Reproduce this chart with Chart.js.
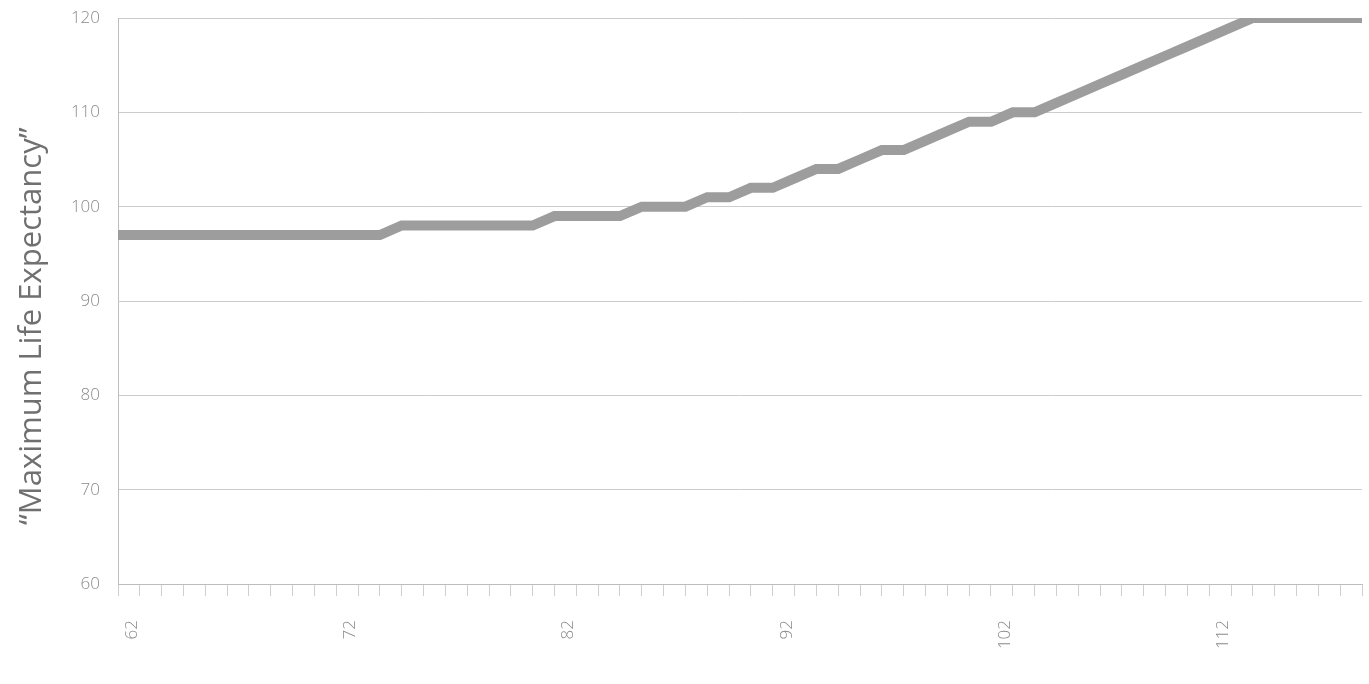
<!DOCTYPE html>
<html>
<head>
<meta charset="utf-8">
<script src="https://cdn.jsdelivr.net/npm/chart.js@4/dist/chart.umd.min.js"></script>
<style>
  html, body { margin: 0; padding: 0; background: #ffffff; }
  #wrap { width: 1369px; height: 684px; position: relative; }
</style>
</head>
<body>
<div id="wrap"><canvas id="chart" width="1369" height="684"></canvas></div>
<script>
// Current age, one category per year
const ages = [
  62, 63, 64, 65, 66, 67, 68, 69, 70, 71,
  72, 73, 74, 75, 76, 77, 78, 79, 80, 81,
  82, 83, 84, 85, 86, 87, 88, 89, 90, 91,
  92, 93, 94, 95, 96, 97, 98, 99, 100, 101,
  102, 103, 104, 105, 106, 107, 108, 109, 110, 111,
  112, 113, 114, 115, 116, 117, 118, 119
];

// Maximum life expectancy for each age
const maxLifeExpectancy = [
  97, 97, 97, 97, 97, 97, 97, 97, 97, 97,
  97, 97, 97, 98, 98, 98, 98, 98, 98, 98,
  99, 99, 99, 99, 100, 100, 100, 101, 101, 102,
  102, 103, 104, 104, 105, 106, 106, 107, 108, 109,
  109, 110, 110, 111, 112, 113, 114, 115, 116, 117,
  118, 119, 120, 120, 120, 120, 120, 120
];

// Y axis range and step
const yTicks = [60, 70, 80, 90, 100, 110, 120];

const yTitle = '\u201CMaximum Life Expectancy\u201D';

const labelFont = "'Open Sans', 'DejaVu Sans', sans-serif";

// Vertical axis title, drawn beside the value labels and centred on the page height
const yTitlePlugin = {
  id: 'yTitle',
  afterDraw(chart) {
    const ctx = chart.ctx;
    ctx.save();
    ctx.translate(32, chart.height * 0.477);
    ctx.rotate(-Math.PI / 2);
    ctx.font = '400 31px ' + labelFont;
    ctx.fillStyle = '#707070';
    ctx.textAlign = 'center';
    ctx.textBaseline = 'middle';
    ctx.fillText(yTitle, 0, 0);
    ctx.restore();
  }
};

new Chart(document.getElementById('chart'), {
  type: 'line',
  data: {
    labels: ages,
    datasets: [{
      data: maxLifeExpectancy,
      borderColor: '#9d9d9d',
      borderWidth: 10,
      borderJoinStyle: 'miter',
      borderCapStyle: 'butt',
      pointRadius: 0,
      pointHoverRadius: 0,
      tension: 0,
      fill: false
    }]
  },
  plugins: [yTitlePlugin],
  options: {
    responsive: false,
    animation: false,
    layout: { padding: { top: 18, right: 7, bottom: 0, left: 0 } },
    plugins: {
      legend: { display: false },
      tooltip: { enabled: false }
    },
    scales: {
      x: {
        type: 'category',
        offset: false,
        afterFit: function (scale) {
          scale.height = 100;
          scale.paddingLeft = 0;
          scale.paddingRight = 0;
        },
        grid: {
          drawOnChartArea: false,
          drawTicks: true,
          tickLength: 12,
          color: '#cfcfcf'
        },
        border: { display: true, color: '#bdbdbd', width: 1 },
        ticks: {
          autoSkip: false,
          maxRotation: 90,
          minRotation: 90,
          padding: 24,
          labelOffset: 14,
          color: '#8a8a8a',
          font: { family: labelFont, size: 17, weight: 300 },
          callback: function (value, index) {
            const age = ages[index];
            return (age - ages[0]) % 10 === 0 ? String(age) : '';
          }
        }
      },
      y: {
        min: yTicks[0],
        max: yTicks[yTicks.length - 1],
        afterBuildTicks: function (scale) {
          scale.ticks = yTicks.map(v => ({ value: v }));
        },
        afterFit: function (scale) {
          scale.width = 118;
          scale.paddingTop = 0;
          scale.paddingBottom = 0;
        },
        grid: {
          drawTicks: false,
          color: '#cccccc',
          lineWidth: 1
        },
        border: { display: true, color: '#bdbdbd', width: 1 },
        ticks: {
          padding: 18,
          color: '#8a8a8a',
          font: { family: labelFont, size: 17, weight: 300 }
        }
      }
    }
  }
});
</script>
</body>
</html>
